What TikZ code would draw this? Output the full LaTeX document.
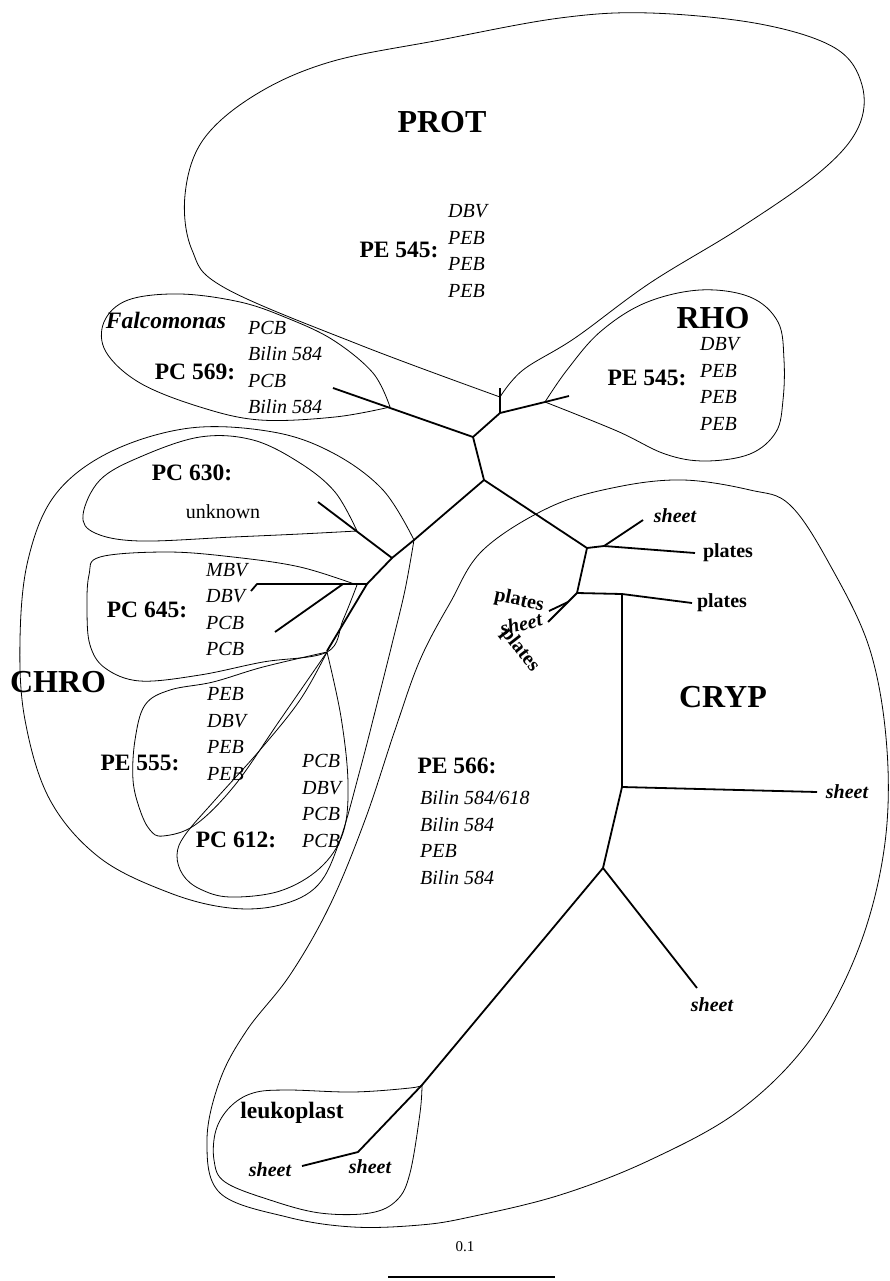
\documentclass[tikz,border=0pt]{standalone}
\usepackage{fontspec}
\setmainfont{Liberation Serif}
\begin{document}
\begin{tikzpicture}[x=1pt,y=-1pt,
  br/.style={line width=1.8pt,line join=round},
  brthin/.style={line width=1.1pt},
  ct/.style={line width=0.8pt},
  big/.style={font=\fontsize{32}{32}\selectfont\bfseries,inner sep=0pt},
  lab/.style={font=\fontsize{23.5}{23.5}\selectfont\bfseries,inner sep=0pt},
  lbi/.style={font=\fontsize{23.5}{23.5}\selectfont\bfseries\itshape,inner sep=0pt},
  lst/.style={font=\fontsize{20}{26.5}\selectfont\itshape,align=left,anchor=west,inner sep=0pt},
  reg/.style={font=\fontsize{20}{20}\selectfont,inner sep=0pt},
  pl/.style={font=\fontsize{20}{20}\selectfont\bfseries,inner sep=0pt},
  sh/.style={font=\fontsize{20}{20}\selectfont\bfseries\itshape,inner sep=0pt},
  sm/.style={font=\fontsize{15}{15}\selectfont,inner sep=0pt}]
\useasboundingbox (0,0) rectangle (889,1281);
% ---------- tree coordinates ----------
\coordinate (A) at (473,437);
\coordinate (B) at (500,413);
\coordinate (Bt) at (500,388);
\coordinate (C) at (545,402);
\coordinate (Ct) at (569,396);
\coordinate (Fa) at (333,388);
\coordinate (D) at (484,480);
\coordinate (E) at (414,540);
\coordinate (F) at (392,558);
\coordinate (Un) at (318,502);
\coordinate (G) at (367,584);
\coordinate (G2) at (343,584);
\coordinate (Mb) at (257,584);
\coordinate (Mbt) at (251,591);
\coordinate (Pc) at (275,632);
\coordinate (H) at (327,651);
\coordinate (I) at (587,548);
\coordinate (I2) at (604,546);
\coordinate (Is) at (643,520);
\coordinate (Ip) at (695,553);
\coordinate (K) at (577,593);
\coordinate (K2) at (568,602);
\coordinate (Ka) at (549,611);
\coordinate (Kb) at (548,622);
\coordinate (L) at (622,594);
\coordinate (Lp) at (692,603);
\coordinate (M) at (622,787);
\coordinate (Ms) at (817,792);
\coordinate (N) at (603,868);
\coordinate (Ns) at (697,988);
\coordinate (O) at (422,1085);
\coordinate (P) at (358,1152);
\coordinate (Ps) at (302,1166);
% ---------- contours ----------
% PROT
\draw[ct] plot[smooth,tension=0.6] coordinates {(500,397) (360,345) (225,288) (192,250) (185,195) (203,140) (255,95) (330,62) (440,40) (560,18) (650,13) (760,24) (835,48) (862,85) (858,128) (820,172) (740,228) (650,283) (575,338) (523,370) (500,397)};
% RHO
\draw[ct] plot[smooth,tension=0.6] coordinates {(545,402) (567,370) (600,332) (645,303) (700,290) (750,297) (778,322) (784,360) (783,400) (776,432) (750,454) (705,461) (665,454) (617,431) (545,402)};
% Falcomonas
\draw[ct] plot[smooth,tension=0.6] coordinates {(390,407) (373,373) (333,340) (287,318) (240,302) (180,294) (128,300) (104,322) (106,352) (140,383) (200,407) (260,420) (335,417) (390,407)};
% CHRO outer
\draw[ct] plot[smooth,tension=0.6] coordinates {(414,540) (405,590) (393,640) (378,700) (360,770) (340,840) (318,885) (280,905) (230,908) (170,893) (100,858) (50,800) (25,720) (20,640) (28,560) (55,495) (110,452) (190,428) (273,432) (333,453) (383,490) (414,540)};
% PC 630
\draw[ct] plot[smooth,tension=0.6] coordinates {(357,531) (335,492) (300,463) (253,440) (200,437) (140,457) (100,480) (83,515) (95,533) (140,541) (233,537) (300,534) (357,531)};
% PC 645
\draw[ct] plot[smooth,tension=0.6] coordinates {(357,585) (300,567) (233,557) (167,552) (100,557) (89,575) (87,610) (90,645) (105,668) (140,681) (200,675) (263,662) (327,652) (343,620) (357,585)};
% PE 555
\draw[ct] plot[smooth,tension=0.6] coordinates {(327,652) (263,667) (213,682) (170,690) (145,705) (135,740) (133,780) (140,810) (150,830) (163,836) (195,825) (235,785) (280,720) (327,652)};
% PC 612
\draw[ct] plot[smooth,tension=0.6] coordinates {(327,652) (300,700) (260,750) (215,800) (185,835) (177,855) (183,875) (200,889) (230,897) (280,891) (320,868) (343,833) (348,783) (341,717) (327,652)};
% CRYP
\draw[ct] plot[smooth cycle,tension=0.6] coordinates {(750,490) (683,480) (617,487) (550,507) (483,550) (450,603) (420,660) (395,730) (365,820) (330,905) (290,975) (247,1030) (220,1080) (207,1140) (220,1193) (287,1217) (353,1227) (420,1225) (470,1217) (560,1195) (650,1160) (740,1110) (810,1040) (858,950) (884,850) (887,750) (870,650) (830,565) (790,505)};
% leukoplast
\draw[ct] plot[smooth,tension=0.6] coordinates {(422,1085) (410,1088) (353,1092) (287,1090) (253,1093) (230,1107) (216,1130) (214,1160) (225,1182) (270,1200) (320,1213) (370,1213) (397,1200) (410,1173) (420,1113) (422,1085)};
% ---------- tree ----------
\draw[br] (Fa) -- (A) -- (B) -- (C) -- (Ct);
\draw[br] (B) -- (Bt);
\draw[br] (A) -- (D) -- (E) -- (F) -- (G) -- (H);
\draw[br] (F) -- (Un);
\draw[br] (G) -- (Mb) -- (Mbt);
\draw[br] (G2) -- (Pc);
\draw[br] (D) -- (I) -- (I2) -- (Is);
\draw[br] (I2) -- (Ip);
\draw[br] (I) -- (K) -- (L) -- (Lp);
\draw[br] (K) -- (K2) -- (Ka);
\draw[br] (K2) -- (Kb);
\draw[brthin] (L) -- (M);
\draw[br] (M) -- (Ms);
\draw[br] (M) -- (N) -- (O) -- (P) -- (Ps);
\draw[br] (N) -- (Ns);
% ---------- labels ----------
\node[big] (prot) at (442,122) {PROT};
\node[lab] (pe545a) at (399,250) {PE 545:};
\node[lst] (la) at (448,251) {DBV\\PEB\\PEB\\PEB};
\node[big] (rho) at (713,318) {RHO};
\node[lab] (pe545b) at (647,378) {PE 545:};
\node[lst] (lb) at (700,384) {DBV\\PEB\\PEB\\PEB};
\node[lbi] (falc) at (166,320) {Falcomonas};
\node[lab] (pc569) at (195,372) {PC 569:};
\node[lst] (lc) at (248,367.5) {PCB\\Bilin 584\\PCB\\Bilin 584};
\node[lab] (pc630) at (192,473) {PC 630:};
\node[reg] (unk) at (223,512) {unknown};
\node[lab] (pc645) at (147,610) {PC 645:};
\node[lst] (ld) at (206,609.5) {MBV\\DBV\\PCB\\PCB};
\node[big] (chro) at (58,682) {CHRO};
\node[lab] (pe555) at (140,763) {PE 555:};
\node[lst] (le) at (207,734) {PEB\\DBV\\PEB\\PEB};
\node[lab] (pc612) at (236,840) {PC 612:};
\node[lst] (lf) at (302,801) {PCB\\DBV\\PCB\\PCB};
\node[big] (cryp) at (723,697) {CRYP};
\node[lab] (pe566) at (457,766) {PE 566:};
\node[lst] (lg) at (420,837.5) {Bilin 584/618\\Bilin 584\\PEB\\Bilin 584};
\node[sh] (s1) at (675,516) {sheet};
\node[pl] (p1) at (728,553) {plates};
\node[pl] (p2) at (722,603) {plates};
\node[pl,rotate=-12] (p3) at (519,601) {plates};
\node[sh,rotate=14] (s2) at (521,624) {sheet};
\node[pl,rotate=-52] (p4) at (520,650) {plates};
\node[sh] (s3) at (847,792) {sheet};
\node[sh] (s4) at (712,1005) {sheet};
\node[lab] (leuko) at (292,1113) {leukoplast};
\node[sh] (s5) at (270,1170) {sheet};
\node[sh] (s6) at (370,1167) {sheet};
\node[sm] (scl) at (465,1247) {0.1};
\coordinate (bar1) at (388,1277);
\coordinate (bar2) at (555,1277);
\draw[line width=2.5pt] (bar1) -- (bar2);
\end{tikzpicture}
\end{document}
